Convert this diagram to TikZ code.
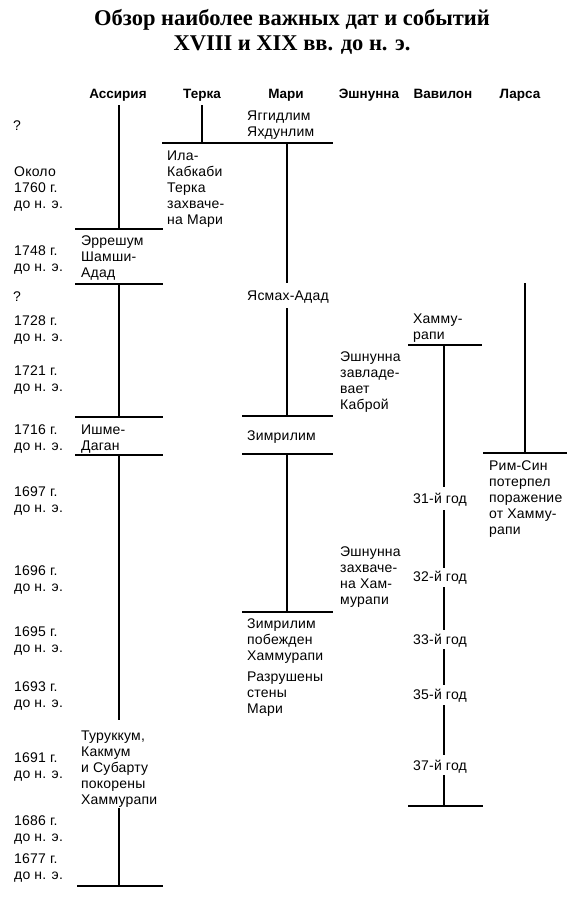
\documentclass[tikz,border=0pt]{standalone}
\usepackage{fontspec}
\setmainfont{Liberation Sans}[LetterSpace=1.5]
\newfontfamily\hdrfont{Liberation Sans}
\newfontfamily\titlefont{Liberation Serif}
\begin{document}
\begin{tikzpicture}[x=1pt,y=-1pt,
  txt/.style={anchor=north west, inner sep=0pt, align=left, font=\fontsize{14}{16}\selectfont},
  hdr/.style={anchor=base, inner sep=0pt, font=\hdrfont\bfseries\fontsize{13.5}{16}\selectfont},
  ttl/.style={anchor=north, inner sep=0pt, align=center, font=\titlefont\bfseries\fontsize{22.5}{25}\selectfont},
  rule/.style={line width=1.1pt}]
\useasboundingbox (0,0) rectangle (585,900);
% title
\node[ttl] (title) at (292,9) {Обзор наиболее важных дат и событий\\XVIII и XIX вв. до н. э.};
% headers
\node[hdr] (hAss) at (118,98) {Ассирия};
\node[hdr] (hTer) at (202,98) {Терка};
\node[hdr] (hMar) at (286,98) {Мари};
\node[hdr] (hEsh) at (369,98) {Эшнунна};
\node[hdr] (hVav) at (443,98) {Вавилон};
\node[hdr] (hLar) at (520,98) {Ларса};
% dates
\node[txt] (d0) at (13,121) {?};
\node[txt] (d1) at (14,167) {Около\\1760 г.\\до н. э.};
\node[txt] (d2) at (14,246) {1748 г.\\до н. э.};
\node[txt] (d3) at (13,292) {?};
\node[txt] (d4) at (14,316) {1728 г.\\до н. э.};
\node[txt] (d5) at (14,366) {1721 г.\\до н. э.};
\node[txt] (d6) at (14,425) {1716 г.\\до н. э.};
\node[txt] (d7) at (14,487) {1697 г.\\до н. э.};
\node[txt] (d8) at (14,566) {1696 г.\\до н. э.};
\node[txt] (d9) at (14,627) {1695 г.\\до н. э.};
\node[txt] (d10) at (14,682) {1693 г.\\до н. э.};
\node[txt] (d11) at (14,753) {1691 г.\\до н. э.};
\node[txt] (d12) at (14,816) {1686 г.\\до н. э.};
\node[txt] (d13) at (14,854) {1677 г.\\до н. э.};
% Assyria
\node[txt] (erresh) at (81,236) {Эррешум\\Шамши-\\Адад};
\node[txt] (ishme) at (81,425) {Ишме-\\Даган};
\node[txt] (turuk) at (81,731) {Туруккум,\\Какмум\\и Субарту\\покорены\\Хаммурапи};
% Terka
\node[txt] (ila) at (167,151) {Ила-\\Кабкаби\\Терка\\захваче-\\на Мари};
% Mari
\node[txt] (yagg) at (247,111) {Яггидлим\\Яхдунлим};
\node[txt] (yasmah) at (247,291) {Ясмах-Адад};
\node[txt] (zimri1) at (247,431) {Зимрилим};
\node[txt] (zimri2) at (247,619) {Зимрилим\\побежден\\Хаммурапи};
\node[txt] (razr) at (247,672) {Разрушены\\стены\\Мари};
% Eshnunna
\node[txt] (esh1) at (340,352) {Эшнунна\\завладе-\\вает\\Каброй};
\node[txt] (esh2) at (340,547) {Эшнунна\\захваче-\\на Хам-\\мурапи};
% Babylon
\node[txt] (hammu) at (413,314) {Хамму-\\рапи};
\node[txt] (y31) at (413,493) {31-й год};
\node[txt] (y32) at (413,571) {32-й год};
\node[txt] (y33) at (413,634) {33-й год};
\node[txt] (y35) at (413,689) {35-й год};
\node[txt] (y37) at (413,760) {37-й год};
% Larsa
\node[txt] (rim) at (489,461) {Рим-Син\\потерпел\\поражение\\от Хамму-\\рапи};
% Assyria lines
\draw[rule] (119,105) -- (119,229);
\draw[rule] (75,229) -- (163,229);
\draw[rule] (75,284) -- (163,284);
\draw[rule] (119,284) -- (119,417);
\draw[rule] (75,417) -- (163,417);
\draw[rule] (75,455) -- (163,455);
\draw[rule] (119,455) -- (119,720);
\draw[rule] (119,808) -- (119,886);
\draw[rule] (77,886) -- (163,886);
% Terka lines
\draw[rule] (202,105) -- (202,143);
\draw[rule] (162,143) -- (333,143);
% Mari lines
\draw[rule] (287,143) -- (287,283);
\draw[rule] (287,308) -- (287,416);
\draw[rule] (242,416) -- (333,416);
\draw[rule] (242,454) -- (333,454);
\draw[rule] (287,454) -- (287,612);
\draw[rule] (242,612) -- (333,612);
% Babylon lines
\draw[rule] (408,345) -- (482,345);
\draw[rule] (444,345) -- (444,487);
\draw[rule] (444,510) -- (444,568);
\draw[rule] (444,587) -- (444,630);
\draw[rule] (444,649) -- (444,685);
\draw[rule] (444,705) -- (444,755);
\draw[rule] (444,775) -- (444,806);
\draw[rule] (408,806) -- (483,806);
% Larsa lines
\draw[rule] (525,283) -- (525,453);
\draw[rule] (483,453) -- (567,453);
\end{tikzpicture}
\end{document}
